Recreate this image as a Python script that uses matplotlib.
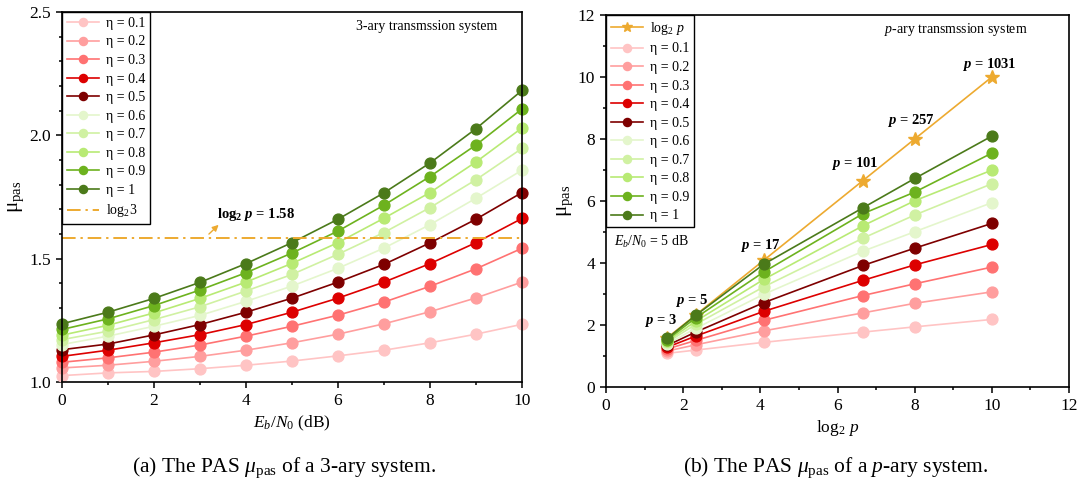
import matplotlib
matplotlib.use("Agg")
import matplotlib.pyplot as plt
from matplotlib.ticker import MultipleLocator
import numpy as np

plt.rcParams['font.family'] = ['Liberation Serif', 'DejaVu Serif']
plt.rcParams['mathtext.fontset'] = 'custom'
plt.rcParams['mathtext.rm'] = 'Liberation Serif'
plt.rcParams['mathtext.it'] = 'Liberation Serif:italic'
plt.rcParams['mathtext.bf'] = 'Liberation Serif:bold'
plt.rcParams['mathtext.bfit'] = 'Liberation Serif:bold:italic'

# ---------------- data ----------------
eta_labels = ["η = 0.1", "η = 0.2", "η = 0.3", "η = 0.4", "η = 0.5",
              "η = 0.6", "η = 0.7", "η = 0.8", "η = 0.9", "η = 1"]
colors = ["#FFC4C4", "#FF9E9E", "#FF7272", "#DD0000", "#7E0000",
          "#E4F6CC", "#D0F1A2", "#B8EA74", "#6DB21E", "#4B7A1A"]
orange = "#EDAA30"

ebn0 = [0, 1, 2, 3, 4, 5, 6, 7, 8, 9, 10]
mu_3ary_01 = [1.026, 1.037, 1.043, 1.054, 1.068, 1.085, 1.106, 1.129, 1.159, 1.194, 1.234]
mu_3ary_02 = [1.057, 1.068, 1.084, 1.104, 1.129, 1.159, 1.194, 1.236, 1.285, 1.341, 1.405]
mu_3ary_03 = [1.080, 1.098, 1.121, 1.150, 1.186, 1.226, 1.271, 1.324, 1.388, 1.459, 1.542]
mu_3ary_04 = [1.104, 1.129, 1.159, 1.192, 1.233, 1.283, 1.340, 1.405, 1.480, 1.565, 1.663]
mu_3ary_05 = [1.131, 1.154, 1.191, 1.233, 1.283, 1.340, 1.405, 1.477, 1.564, 1.660, 1.768]
mu_3ary_06 = [1.152, 1.186, 1.226, 1.270, 1.327, 1.389, 1.461, 1.543, 1.638, 1.745, 1.859]
mu_3ary_07 = [1.172, 1.206, 1.253, 1.305, 1.369, 1.436, 1.518, 1.606, 1.707, 1.820, 1.947]
mu_3ary_08 = [1.190, 1.230, 1.280, 1.339, 1.405, 1.481, 1.565, 1.664, 1.768, 1.892, 2.030]
mu_3ary_09 = [1.213, 1.256, 1.310, 1.373, 1.443, 1.523, 1.612, 1.717, 1.833, 1.961, 2.107]
mu_3ary_10 = [1.236, 1.283, 1.339, 1.404, 1.480, 1.565, 1.660, 1.767, 1.888, 2.027, 2.182]
mu_3ary = [mu_3ary_01, mu_3ary_02, mu_3ary_03, mu_3ary_04, mu_3ary_05,
           mu_3ary_06, mu_3ary_07, mu_3ary_08, mu_3ary_09, mu_3ary_10]
log2_3 = 1.585

p_values = [3, 5, 17, 101, 257, 1031]
log2p = list(np.log2(p_values))
mu_p_01 = [1.085, 1.19, 1.44, 1.77, 1.94, 2.18]
mu_p_02 = [1.159, 1.36, 1.81, 2.39, 2.70, 3.07]
mu_p_03 = [1.226, 1.50, 2.15, 2.95, 3.33, 3.87]
mu_p_04 = [1.283, 1.64, 2.44, 3.44, 3.94, 4.60]
mu_p_05 = [1.340, 1.77, 2.72, 3.92, 4.48, 5.28]
mu_p_06 = [1.389, 1.89, 2.99, 4.38, 5.01, 5.95]
mu_p_07 = [1.436, 2.02, 3.23, 4.80, 5.55, 6.56]
mu_p_08 = [1.481, 2.12, 3.47, 5.20, 6.01, 7.00]
mu_p_09 = [1.523, 2.23, 3.71, 5.59, 6.29, 7.55]
mu_p_10 = [1.565, 2.31, 3.96, 5.78, 6.73, 8.10]
mu_p = [mu_p_01, mu_p_02, mu_p_03, mu_p_04, mu_p_05,
        mu_p_06, mu_p_07, mu_p_08, mu_p_09, mu_p_10]
p_label_pos = [(1.40, 2.15), (2.22, 2.80), (4.0, 4.56), (6.45, 7.2), (7.88, 8.6), (9.92, 10.4)]

# ---------------- figure ----------------
fig = plt.figure(figsize=(10.78, 4.96), dpi=100)
axL = fig.add_axes([0.0575, 0.2298, 0.4267, 0.746])
axR = fig.add_axes([0.5622, 0.2198, 0.4295, 0.750])

FS = 9.5
ms = 7.8
lw = 1.2

def style(ax):
    ax.tick_params(which='both', direction='out', labelsize=12.5, width=1.1)
    ax.tick_params(which='major', length=4.5)
    ax.tick_params(which='minor', length=2.5)
    for s in ax.spines.values():
        s.set_linewidth(1.2)

# left
for ys, c, lab in zip(mu_3ary, colors, eta_labels):
    axL.plot(ebn0, ys, '-o', color=c, mfc=c, mec=c, lw=lw, ms=ms, label=lab, clip_on=False)
axL.axhline(log2_3, color=orange, lw=1.4, ls=(0, (7, 2.5, 1.2, 2.5)), label='log$_2$3')
axL.set_xlim(0, 10)
axL.set_ylim(1.0, 2.5)
axL.xaxis.set_major_locator(MultipleLocator(2))
axL.xaxis.set_minor_locator(MultipleLocator(1))
axL.yaxis.set_major_locator(MultipleLocator(0.5))
axL.yaxis.set_minor_locator(MultipleLocator(0.1))
style(axL)
axL.set_xlabel('$E_b/N_0$ (dB)', fontsize=12.5, labelpad=3)
axL.set_ylabel('μ$_{\\mathrm{pas}}$', fontsize=15, labelpad=2)
axL.text(0.946, 0.962, '3-ary transmssion system', transform=axL.transAxes,
         ha='right', va='center', fontsize=10)
axL.annotate('', xy=(3.45, 1.645), xytext=(3.15, 1.592),
             arrowprops=dict(arrowstyle='-|>', color=orange, lw=1.0, mutation_scale=9))
axL.text(3.38, 1.68, r'log$_{\mathbf{2}}$ $\boldsymbol{p}$ = 1.58', fontsize=10.5,
         fontweight='bold', ha='left', va='center')
legL = axL.legend(loc='upper left', bbox_to_anchor=(0, 1), borderaxespad=0,
                  fontsize=FS + 0.5, frameon=True, fancybox=False, edgecolor='black',
                  framealpha=1, handlelength=2.3, handletextpad=0.5, labelspacing=0.40,
                  borderpad=0.35, markerscale=0.75)
legL.get_frame().set_linewidth(1.0)

# right
axR.plot(log2p, log2p, '-*', color=orange, lw=lw, ms=10, label='log$_2$ $p$', clip_on=False)
for ys, c, lab in zip(mu_p, colors, eta_labels):
    axR.plot(log2p, ys, '-o', color=c, mfc=c, mec=c, lw=lw, ms=ms, label=lab)
axR.set_xlim(0, 12)
axR.set_ylim(0, 12)
axR.xaxis.set_major_locator(MultipleLocator(2))
axR.xaxis.set_minor_locator(MultipleLocator(1))
axR.yaxis.set_major_locator(MultipleLocator(2))
axR.yaxis.set_minor_locator(MultipleLocator(1))
style(axR)
axR.set_xlabel('log$_2$ $p$', fontsize=12.5, labelpad=3)
axR.set_ylabel('μ$_{\\mathrm{pas}}$', fontsize=15, labelpad=2)
axR.text(0.911, 0.962, '$p$-ary transmssion system', transform=axR.transAxes,
         ha='right', va='center', fontsize=10)
for pv, (tx, ty) in zip(p_values, p_label_pos):
    axR.text(tx, ty, r'$\boldsymbol{p}$ = %d' % pv, fontsize=10.5, fontweight='bold',
             ha='center', va='center')
legR = axR.legend(loc='upper left', bbox_to_anchor=(0, 1), borderaxespad=0,
                  fontsize=FS + 0.5, frameon=True, fancybox=False, edgecolor='black',
                  framealpha=1, handlelength=2.3, handletextpad=0.5, labelspacing=0.40,
                  borderpad=0.35, markerscale=0.75)
legR.get_frame().set_linewidth(1.0)
axR.text(0.018, 0.39, '$E_b/N_0$ = 5 dB', transform=axR.transAxes,
         ha='left', va='center', fontsize=10)

# captions
fig.text(0.2635, 0.057, r'(a) The PAS $\mu_{\mathrm{pas}}$ of a 3-ary system.', ha='center',
         va='center', fontsize=15.5)
fig.text(0.775, 0.057, r'(b) The PAS $\mu_{\mathrm{pas}}$ of a $p$-ary system.', ha='center',
         va='center', fontsize=15.5)

fig.savefig('out.png', dpi=100)
